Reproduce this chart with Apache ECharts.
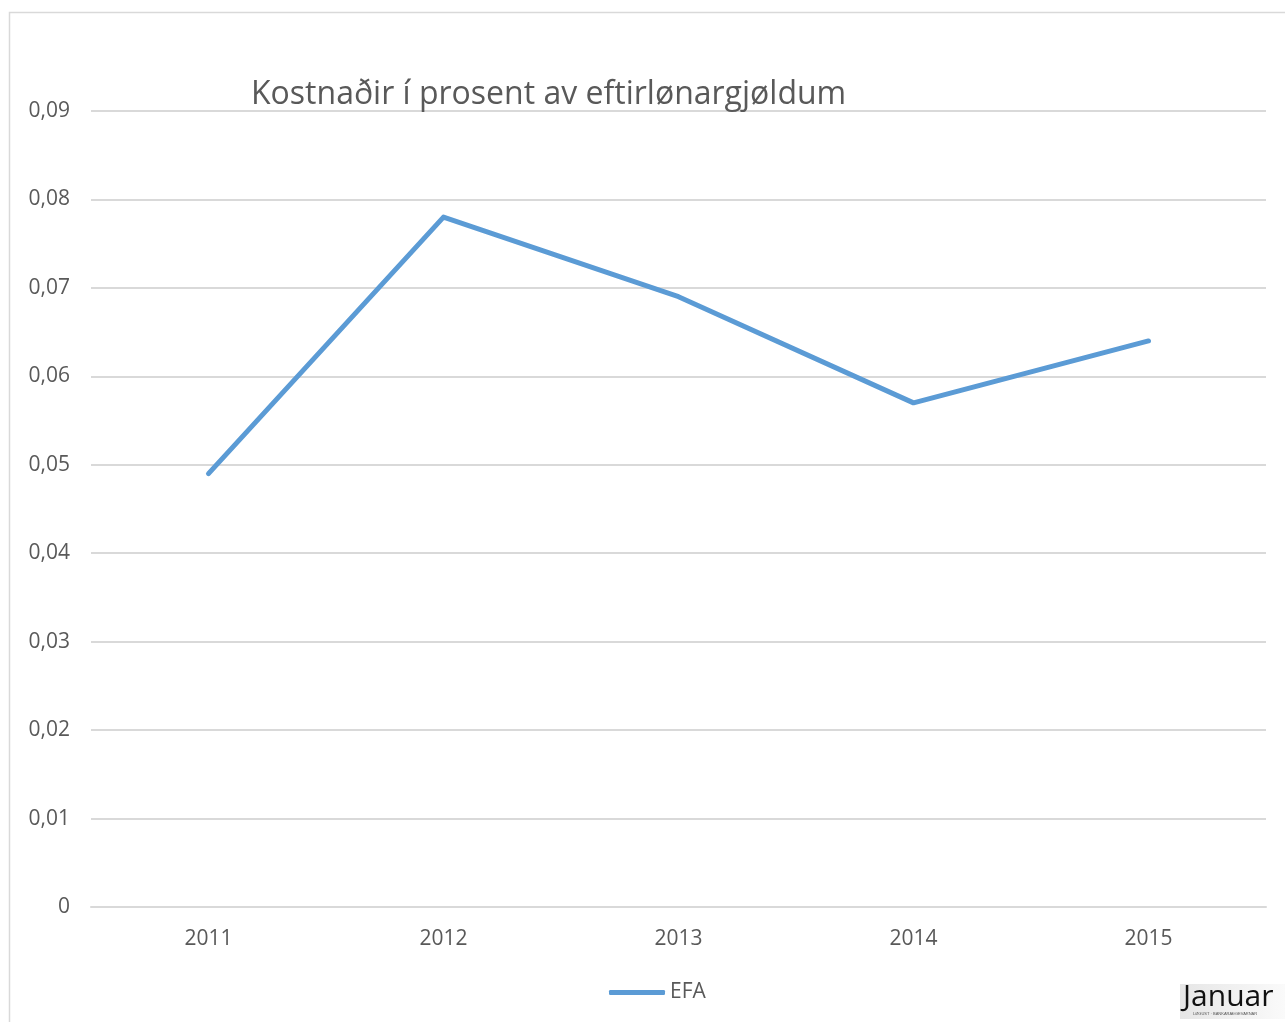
<!DOCTYPE html>
<html>
<head>
<meta charset="utf-8" />
<script src="https://cdn.jsdelivr.net/npm/echarts@6/dist/echarts.min.js"></script>
<title>Kostnaðir</title>
<style>
html, body { margin: 0; padding: 0; background: #fff; }
#main { width: 1285px; height: 1022px; }
</style>
</head>
<body>
<div id="main"></div>
<script type="text/javascript">
var years = ['2011', '2012', '2013', '2014', '2015'];
var efa = [0.049, 0.078, 0.069, 0.057, 0.064];
var seriesName = 'EFA';
var titleText = 'Kostnaðir í prosent av eftirlønargjøldum';

var myChart = echarts.init(document.getElementById('main'));
var font = '"Open Sans", Lato, sans-serif';

var option = {
    backgroundColor: '#fff',
    animation: false,
    title: {
        text: titleText,
        left: 246,
        top: 74,
        textStyle: { fontFamily: font, fontSize: 32, fontWeight: 'normal', color: '#595959' }
    },
    legend: {
        bottom: 14,
        left: 604,
        data: [seriesName],
        itemWidth: 56,
        itemHeight: 5,
        itemGap: 5,
        icon: 'roundRect',
        textStyle: { fontFamily: font, fontSize: 21, color: '#595959' }
    },
    grid: { left: 91, right: 19, top: 111, bottom: 115 },
    xAxis: {
        type: 'category',
        data: years,
        boundaryGap: true,
        axisLine: { lineStyle: { color: '#d9d9d9', width: 2 } },
        axisTick: { show: false },
        axisLabel: { fontFamily: font, fontSize: 21, color: '#595959', margin: 22 }
    },
    yAxis: {
        type: 'value',
        min: 0,
        max: 0.09,
        interval: 0.01,
        axisLine: { show: false },
        axisTick: { show: false },
        splitLine: { lineStyle: { color: '#d9d9d9', width: 2 } },
        axisLabel: {
            fontFamily: font, fontSize: 21, color: '#595959', margin: 21,
            formatter: function (v) { return v === 0 ? '0' : v.toFixed(2).replace('.', ','); }
        }
    },
    series: [{
        name: seriesName,
        type: 'line',
        data: efa,
        symbol: 'none',
        lineStyle: { color: '#5b9bd5', width: 5, cap: 'round', join: 'round' },
        itemStyle: { color: '#5b9bd5' }
    }],
    graphic: [
        {
            type: 'rect',
            shape: { x: 9.5, y: 12.5, width: 1300, height: 1030 },
            style: { fill: 'none', stroke: '#d9d9d9', lineWidth: 1.5 },
            silent: true
        },
        {
            type: 'rect',
            shape: { x: 1180, y: 984, width: 105, height: 35 },
            style: {
                fill: new echarts.graphic.LinearGradient(0, 0, 1, 0, [
                    { offset: 0, color: '#e6e6e6' }, { offset: 1, color: '#fafafa' }
                ])
            },
            silent: true
        },
        {
            type: 'text',
            left: 1183,
            top: 982,
            style: { text: 'Januar', fontFamily: font, fontSize: 30, fill: '#111' },
            silent: true
        },
        {
            type: 'text',
            left: 1193,
            top: 1012,
            style: { text: 'LØGUST · BANKARÁÐGEVARNAR', fontFamily: 'sans-serif', fontSize: 4, fill: '#555' },
            silent: true
        }
    ]
};
myChart.setOption(option);
</script>
</body>
</html>
